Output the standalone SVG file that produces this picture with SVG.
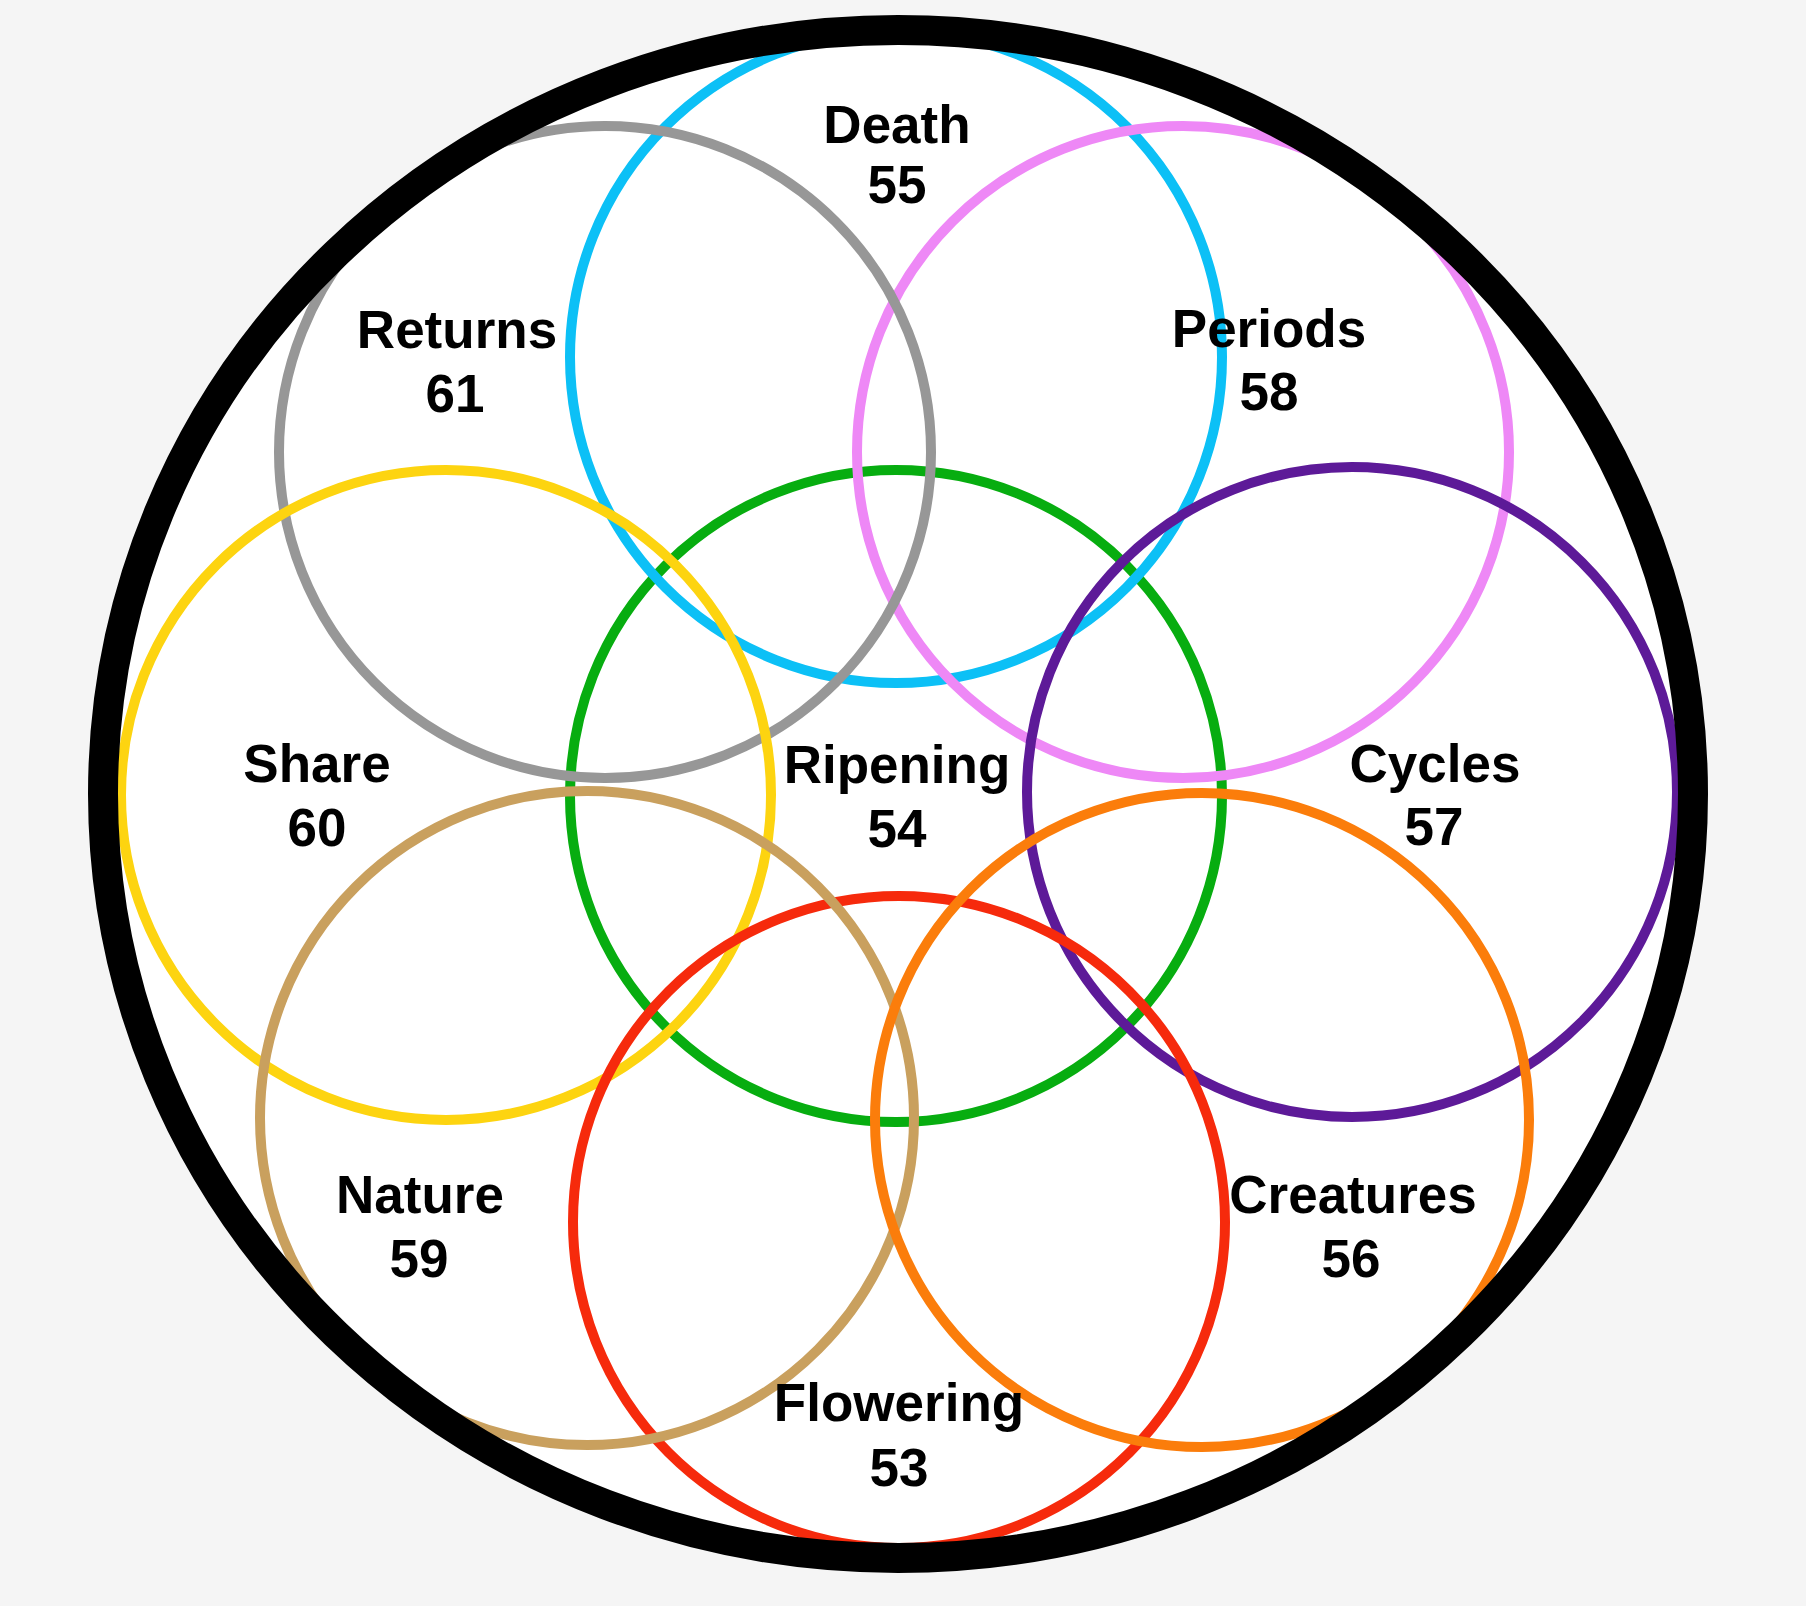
<svg xmlns="http://www.w3.org/2000/svg" width="1806" height="1606" viewBox="0 0 1806 1606">
  <style>
    .ring { fill: none; stroke-width: 10; }
    .lbl { font-family: "Liberation Sans", Arial, Helvetica, sans-serif; font-weight: bold; font-size: 53px; fill: #000; text-anchor: middle; }
  </style>
  <rect x="0" y="0" width="1806" height="1606" fill="#f5f5f5"/>
  <ellipse cx="898" cy="794" rx="795" ry="764" fill="#ffffff"/>

  <g id="nodes">
    <g id="ripening"><circle class="ring" cx="896" cy="796" r="326" stroke="#07ad10"/></g>
    <g id="death"><circle class="ring" cx="896" cy="357" r="326" stroke="#0cc0f6"/></g>
    <g id="periods"><circle class="ring" cx="1183" cy="452" r="326" stroke="#ee88f6"/></g>
    <g id="returns"><circle class="ring" cx="605" cy="452" r="326" stroke="#979797"/></g>
    <g id="share"><circle class="ring" cx="446" cy="795" r="325" stroke="#fdd410"/></g>
    <g id="cycles"><circle class="ring" cx="1352" cy="792" r="325" stroke="#5d1a98"/></g>
    <g id="flowering"><circle class="ring" cx="899" cy="1222" r="326" stroke="#f62a0c"/></g>
    <g id="nature"><circle class="ring" cx="587" cy="1118" r="327" stroke="#c9a05e"/></g>
    <g id="creatures"><circle class="ring" cx="1202" cy="1120" r="327" stroke="#fb7d0b"/></g>
  </g>

  <g id="frame">
    <ellipse cx="898" cy="794" rx="795" ry="764" fill="none" stroke="#000000" stroke-width="30"/>
  </g>

  <g id="labels">
    <g id="label-death"><text class="lbl"><tspan x="897" y="143">Death</tspan><tspan x="897" y="203">55</tspan></text></g>
    <g id="label-returns"><text class="lbl"><tspan x="457" y="348">Returns</tspan><tspan x="455" y="412">61</tspan></text></g>
    <g id="label-periods"><text class="lbl"><tspan x="1269" y="347">Periods</tspan><tspan x="1269" y="410">58</tspan></text></g>
    <g id="label-share"><text class="lbl"><tspan x="317" y="782">Share</tspan><tspan x="317" y="846">60</tspan></text></g>
    <g id="label-ripening"><text class="lbl"><tspan x="897" y="783">Ripening</tspan><tspan x="897" y="847">54</tspan></text></g>
    <g id="label-cycles"><text class="lbl"><tspan x="1435" y="782">Cycles</tspan><tspan x="1434" y="845">57</tspan></text></g>
    <g id="label-nature"><text class="lbl"><tspan x="420" y="1213">Nature</tspan><tspan x="419" y="1277">59</tspan></text></g>
    <g id="label-creatures"><text class="lbl"><tspan x="1353" y="1213">Creatures</tspan><tspan x="1351" y="1277">56</tspan></text></g>
    <g id="label-flowering"><text class="lbl"><tspan x="899" y="1421">Flowering</tspan><tspan x="899" y="1486">53</tspan></text></g>
  </g>
</svg>
